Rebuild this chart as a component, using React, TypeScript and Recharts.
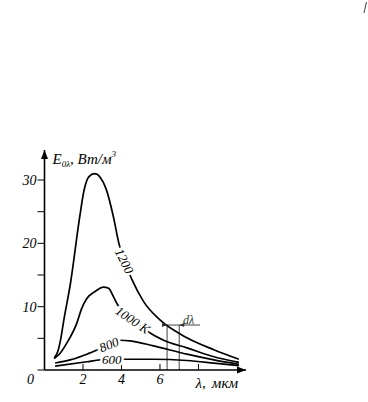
import React from 'react';
import { LineChart, Line, XAxis, YAxis, ReferenceLine, ReferenceDot } from 'recharts';

// ---- data ----
const xTicks = [0, 2, 4, 6, 8];
const xLabeledTicks = [0, 2, 4, 6];
const yTicks = [0, 5, 10, 15, 20, 25, 30];
const yLabeledTicks = [10, 20, 30];
const xMax = 10.47;
const yMax = 34.74;

// λ (µm), E (W/m^3) per temperature curve
const curve1200: [number, number][] = [
  [0.5, 1.9], [0.7, 3.0], [0.85, 5.0], [1.0, 7.8], [1.35, 13.7], [1.83, 24.2], [2.05, 28.3],
  [2.3, 30.5], [2.6, 31.0], [2.9, 30.4], [3.2, 28.6], [3.58, 24.2], [3.85, 20.2], [4.15, 17.2],
  [4.54, 14.3], [5.15, 10.8], [6.0, 7.9], [7.4, 5.1], [8.8, 3.2], [10.1, 1.7],
];
const curve1000: [number, number][] = [
  [0.5, 1.8], [0.8, 2.6], [1.15, 4.2], [1.68, 7.4], [1.93, 9.7], [2.2, 11.3], [2.63, 12.4],
  [3.06, 13.1], [3.33, 12.9], [3.58, 11.6], [3.8, 10.3], [4.58, 7.9], [5.4, 6.0], [6.19, 4.7],
  [7.4, 3.5], [8.8, 2.1], [10.1, 1.2],
];
const curve800: [number, number][] = [
  [0.55, 1.1], [1.33, 1.6], [2.2, 2.5], [2.9, 3.4], [3.35, 4.0], [3.9, 4.7], [4.45, 4.6],
  [5.67, 3.8], [7.4, 2.5], [8.8, 1.6], [10.1, 0.9],
];
const curve600: [number, number][] = [
  [0.55, 0.6], [2.2, 1.3], [2.9, 1.6], [3.5, 1.65], [4.1, 1.7], [5.67, 1.7], [7.4, 1.5],
  [8.8, 1.1], [10.1, 0.7],
];

// curve labels: text and the point on the curve where they sit
const curveLabels = [
  { text: '1200', x: 4.15, y: 17.2 },
  { text: '1000 K', x: 4.58, y: 7.9 },
  { text: '800', x: 3.35, y: 4.0 },
  { text: '600', x: 3.5, y: 1.65 },
];
const curves = [curve1200, curve1000, curve800, curve600];
const labelAngles = [63, 34, -22, 0];

// dλ annotation
const dLambdaFrom = 6.37;
const dLambdaTo = 7.0;
const dLambdaLevel = 7.1;
const dLambdaBarFrom = 6.19;
const dLambdaBarTo = 8.08;
const dLambdaTextX = 7.2;
const dLambdaText = 'dλ';

const FONT = "'Liberation Serif', 'DejaVu Serif', serif";

const seriesData = curves.map((c) => c.map(([x, y]) => ({ x, y })));

const makeCurveLabel = (text: string, angle: number) => (props: any) => {
  const { cx, cy } = props;
  if (cx == null || cy == null) return null;
  return (
    <text
      x={cx}
      y={cy}
      transform={`rotate(${angle} ${cx} ${cy})`}
      textAnchor="middle"
      dominantBaseline="central"
      fontFamily={FONT}
      fontStyle="italic"
      fontSize={13}
      fill="#000"
      stroke="#fff"
      strokeWidth={5}
      paintOrder="stroke"
    >
      {text}
    </text>
  );
};

const XTick = (props: any) => {
  const { x, y, payload } = props;
  const v = payload.value;
  if (!xLabeledTicks.includes(v)) return null;
  return (
    <text x={v === 0 ? x - 14 : x} y={y} dy="0.71em" textAnchor="middle" fontFamily={FONT} fontStyle="italic" fontSize={14} fill="#000">
      {v}
    </text>
  );
};

const YTick = (props: any) => {
  const { x, y, payload } = props;
  const v = payload.value;
  if (!yLabeledTicks.includes(v)) return null;
  return (
    <text x={x} y={y} dy="0.35em" textAnchor="end" fontFamily={FONT} fontStyle="italic" fontSize={14} fill="#000">
      {v}
    </text>
  );
};

const XArrow = (p: any) => (
  <g>
    <polygon points={`${p.cx},${p.cy} ${p.cx - 9},${p.cy - 3.5} ${p.cx - 9},${p.cy + 3.5}`} fill="#000" />
    <text x={p.cx - 8} y={p.cy + 18} textAnchor="end" fontFamily={FONT} fontStyle="italic" fontSize={15} fill="#000">
      <tspan>λ,</tspan>
      <tspan dx={6}>мкм</tspan>
    </text>
  </g>
);

const YArrow = (p: any) => (
  <g>
    <polygon points={`${p.cx},${p.cy} ${p.cx - 3.5},${p.cy + 9} ${p.cx + 3.5},${p.cy + 9}`} fill="#000" />
    <text x={p.cx + 8} y={p.cy + 14} fontFamily={FONT} fontStyle="italic" fontSize={15} fill="#000">
      <tspan>E</tspan>
      <tspan fontSize={9} dy={3}>0λ</tspan>
      <tspan dy={-3}>, Вт/м</tspan>
      <tspan fontSize={9} dy={-7}>3</tspan>
    </text>
  </g>
);

const ArrowRight = (p: any) => (
  <polygon points={`${p.cx},${p.cy} ${p.cx - 5},${p.cy - 2} ${p.cx - 5},${p.cy + 2}`} fill="#333" />
);
const ArrowLeft = (p: any) => (
  <polygon points={`${p.cx},${p.cy} ${p.cx + 5},${p.cy - 2} ${p.cx + 5},${p.cy + 2}`} fill="#333" />
);
const DLabel = (p: any) => (
  <text x={p.cx} y={p.cy - 1} fontFamily={FONT} fontStyle="italic" fontSize={12} fill="#333">
    {dLambdaText}
  </text>
);

export default function App() {
  return (
    <div style={{ position: 'absolute', left: 0, top: 0, width: 368, height: 402, background: '#fff' }}>
      <svg width={368} height={402} style={{ position: 'absolute', left: 0, top: 0 }}>
        <line x1={366.5} y1={2} x2={364} y2={13} stroke="#444" strokeWidth={1} />
      </svg>
      <div style={{ position: 'absolute', left: 0, top: 0 }}>
        <LineChart width={368} height={402} margin={{ top: 150, right: 122, bottom: 2, left: 14.5 }}>
          <XAxis
            type="number"
            dataKey="x"
            domain={[0, xMax]}
            ticks={xTicks}
            interval={0}
            allowDataOverflow
            axisLine={{ stroke: '#000', strokeWidth: 1.6 }}
            tickLine={false}
            tickSize={0}
            tickMargin={4}
            height={30}
            tick={<XTick />}
          />
          <YAxis
            type="number"
            dataKey="y"
            domain={[0, yMax]}
            ticks={yTicks}
            interval={0}
            allowDataOverflow
            axisLine={{ stroke: '#000', strokeWidth: 1.6 }}
            tickLine={{ stroke: '#000', strokeWidth: 1 }}
            tickSize={7}
            tickMargin={1}
            width={30}
            tick={<YTick />}
          />
          {xTicks.filter((t) => t > 0).map((t) => (
            <ReferenceLine key={'xt' + t} segment={[{ x: t, y: 0 }, { x: t, y: 0.95 }]} stroke="#000" strokeWidth={1} ifOverflow="visible" />
          ))}
          <ReferenceLine segment={[{ x: dLambdaFrom, y: 0 }, { x: dLambdaFrom, y: dLambdaLevel }]} stroke="#444" strokeWidth={1} />
          <ReferenceLine segment={[{ x: dLambdaTo, y: 0 }, { x: dLambdaTo, y: dLambdaLevel }]} stroke="#444" strokeWidth={1} />
          <ReferenceLine segment={[{ x: dLambdaBarFrom, y: dLambdaLevel }, { x: dLambdaBarTo, y: dLambdaLevel }]} stroke="#444" strokeWidth={1} />
          <ReferenceDot x={dLambdaFrom} y={dLambdaLevel} r={0} shape={ArrowRight} ifOverflow="visible" />
          <ReferenceDot x={dLambdaTo} y={dLambdaLevel} r={0} shape={ArrowLeft} ifOverflow="visible" />
          <ReferenceDot x={dLambdaTextX} y={dLambdaLevel} r={0} shape={DLabel} ifOverflow="visible" />
          {seriesData.map((d, i) => (
            <Line
              key={'c' + i}
              data={d}
              dataKey="y"
              type="monotone"
              stroke="#000"
              strokeWidth={1.7}
              dot={false}
              activeDot={false}
              isAnimationActive={false}
            />
          ))}
          {curveLabels.map((l, i) => (
            <ReferenceDot key={'lbl' + i} x={l.x} y={l.y} r={0} shape={makeCurveLabel(l.text, labelAngles[i])} ifOverflow="visible" />
          ))}
          <ReferenceDot x={xMax} y={0} r={0} shape={XArrow} ifOverflow="visible" />
          <ReferenceDot x={0} y={yMax} r={0} shape={YArrow} ifOverflow="visible" />
        </LineChart>
      </div>
    </div>
  );
}
